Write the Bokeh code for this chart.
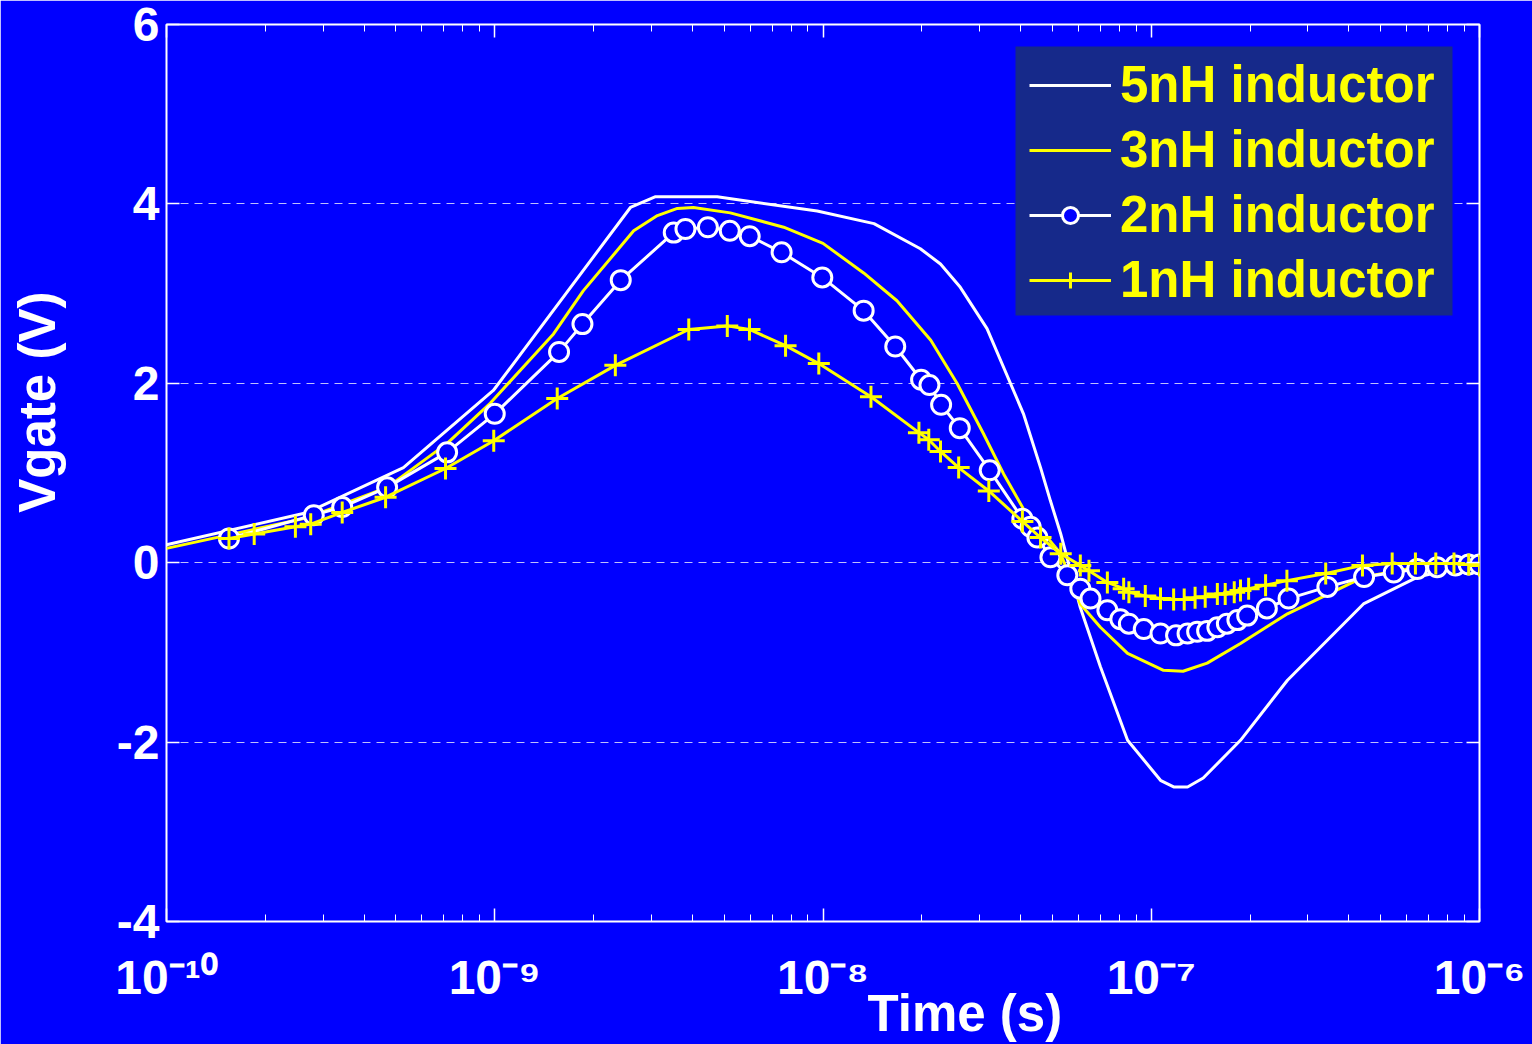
import math
from bokeh.plotting import figure
from bokeh.models import (Range1d, LinearAxis, LogAxis, FixedTicker, Legend,
                          LegendItem, Title, CustomJSTickFormatter, BoxAnnotation)
from bokeh.embed import file_html
from bokeh.resources import INLINE

# ---------------- data ----------------
t_5nH = [1.0e-10, 2.69e-10, 5.27e-10, 9.9e-10, 2.59e-9, 3.09e-9, 4.76e-9, 9.6e-9,
         1.43e-8, 1.98e-8, 2.28e-8, 2.62e-8, 3.16e-8, 4.08e-8, 4.60e-8, 4.93e-8,
         5.30e-8, 6.08e-8, 7.0e-8, 8.47e-8, 1.07e-7, 1.17e-7, 1.29e-7, 1.44e-7,
         1.87e-7, 2.60e-7, 4.43e-7, 6.47e-7, 1.0e-6]
v_5nH = [0.20, 0.56, 1.06, 1.92, 3.96, 4.08, 4.08, 3.92,
         3.78, 3.50, 3.33, 3.07, 2.61, 1.66, 1.06, 0.69,
         0.32, -0.50, -1.16, -1.98, -2.43, -2.50, -2.50, -2.40,
         -1.98, -1.31, -0.46, -0.16, 0.0]

t_3nH = [1.0e-10, 2.68e-10, 4.70e-10, 7.16e-10, 9.7e-10, 1.51e-9, 1.86e-9, 2.65e-9,
         3.13e-9, 3.60e-9, 4.03e-9, 5.22e-9, 7.59e-9, 1.0e-8, 1.33e-8, 1.68e-8,
         2.13e-8, 2.56e-8, 3.08e-8, 3.55e-8, 4.08e-8, 5.30e-8, 6.08e-8, 7.0e-8,
         8.47e-8, 1.09e-7, 1.25e-7, 1.48e-7, 1.87e-7, 2.60e-7, 4.43e-7, 6.47e-7, 1.0e-6]
v_3nH = [0.16, 0.50, 0.84, 1.33, 1.78, 2.55, 3.03, 3.70,
         3.87, 3.95, 3.96, 3.90, 3.74, 3.56, 3.23, 2.92,
         2.48, 2.00, 1.44, 0.99, 0.60, 0.10, -0.46, -0.72,
         -1.01, -1.20, -1.21, -1.12, -0.90, -0.57, -0.16, -0.05, 0.0]

t_2nH = [1.55e-10, 2.81e-10, 3.43e-10, 4.70e-10, 7.16e-10, 1.0e-9, 1.57e-9, 1.85e-9,
         2.42e-9, 3.51e-9, 3.81e-9, 4.46e-9, 5.20e-9, 5.98e-9, 7.48e-9, 9.95e-9,
         1.33e-8, 1.66e-8, 1.99e-8, 2.11e-8, 2.29e-8, 2.61e-8, 3.22e-8, 4.05e-8,
         4.29e-8, 4.50e-8, 4.93e-8, 5.55e-8, 6.08e-8, 6.53e-8, 7.35e-8, 8.05e-8,
         8.55e-8, 9.49e-8, 1.067e-7, 1.19e-7, 1.29e-7, 1.38e-7, 1.48e-7, 1.59e-7,
         1.70e-7, 1.83e-7, 1.96e-7, 2.25e-7, 2.62e-7, 3.44e-7, 4.45e-7, 5.48e-7,
         6.46e-7, 7.43e-7, 8.45e-7, 9.27e-7, 1.0e-6]
v_2nH = [0.27, 0.53, 0.62, 0.84, 1.23, 1.66, 2.35, 2.66,
         3.15, 3.68, 3.72, 3.74, 3.70, 3.64, 3.46, 3.18,
         2.81, 2.41, 2.04, 1.98, 1.76, 1.50, 1.03, 0.49,
         0.40, 0.28, 0.06, -0.14, -0.29, -0.40, -0.53, -0.63,
         -0.68, -0.74, -0.79, -0.81, -0.79, -0.77, -0.76, -0.72,
         -0.68, -0.64, -0.59, -0.51, -0.40, -0.27, -0.16, -0.11,
         -0.07, -0.05, -0.03, -0.02, -0.02]

t_1nH = [1.55e-10, 1.85e-10, 2.47e-10, 2.75e-10, 3.43e-10, 4.65e-10, 7.08e-10, 9.93e-10,
         1.55e-9, 2.33e-9, 3.90e-9, 5.11e-9, 5.97e-9, 7.69e-9, 9.71e-9, 1.40e-8,
         1.96e-8, 2.10e-8, 2.28e-8, 2.59e-8, 3.20e-8, 4.05e-8, 4.60e-8, 5.30e-8,
         6.08e-8, 6.46e-8, 7.35e-8, 8.24e-8, 8.55e-8, 9.59e-8, 1.067e-7, 1.17e-7,
         1.26e-7, 1.36e-7, 1.46e-7, 1.59e-7, 1.68e-7, 1.79e-7, 1.87e-7, 1.98e-7,
         2.23e-7, 2.59e-7, 3.40e-7, 4.40e-7, 5.42e-7, 6.38e-7, 7.36e-7, 8.36e-7,
         9.27e-7, 1.0e-6]
v_1nH = [0.27, 0.32, 0.40, 0.43, 0.56, 0.73, 1.05, 1.36,
         1.83, 2.20, 2.60, 2.64, 2.60, 2.42, 2.22, 1.85,
         1.45, 1.37, 1.24, 1.06, 0.80, 0.46, 0.28, 0.10,
         -0.03, -0.09, -0.22, -0.29, -0.33, -0.37, -0.40, -0.41,
         -0.41, -0.39, -0.38, -0.35, -0.35, -0.33, -0.31, -0.29,
         -0.25, -0.20, -0.12, -0.03, -0.01, -0.01, -0.01, -0.01,
         -0.02, -0.03]

series_labels = ["5nH inductor", "3nH inductor", "2nH inductor", "1nH inductor"]
x_exponents = [-10, -9, -8, -7, -6]
y_ticks = [-4, -2, 0, 2, 4, 6]
y_tick_labels = ["-4", "-2", "0", "2", "4", "6"]
x_title = "Time (s)"
y_title = "Vgate (V)"

# ---------------- styling ----------------
FONT = "Liberation Sans"
BG = "#0000FF"
LEGEND_BG = "#16298A"
WHITE = "#FFFFFF"
YELLOW = "#FFFF00"

xmin, xmax = 10.0 ** x_exponents[0], 10.0 ** x_exponents[-1]
ymin, ymax = y_ticks[0], y_ticks[-1]

p = figure(width=1532, height=1044, x_axis_type="log",
           x_range=Range1d(xmin, xmax), y_range=Range1d(ymin, ymax),
           output_backend="svg", toolbar_location=None,
           min_border_left=166, min_border_right=53,
           min_border_top=24, min_border_bottom=123,
           background_fill_color=BG, border_fill_color=BG,
           outline_line_color=WHITE, outline_line_width=2)

bottom_axis = p.below[0]
left_axis = p.left[0]

x_major = [10.0 ** e for e in x_exponents]
x_minor = [k * 10.0 ** e for e in x_exponents[:-1] for k in range(2, 10)]
xticker = FixedTicker(ticks=x_major, minor_ticks=x_minor)
yticker = FixedTicker(ticks=y_ticks)
blank = CustomJSTickFormatter(code="return ''")
pow10 = CustomJSTickFormatter(code="""
    const sup = {'-': '\u207b', '0': '\u2070', '1': '\u00b9', '2': '\u00b2',
                 '3': '\u00b3', '4': '\u2074', '5': '\u2075', '6': '\u2076',
                 '7': '\u2077', '8': '\u2078', '9': '\u2079'};
    const e = Math.round(Math.log10(tick));
    return '10' + String(e).split('').map((c) => sup[c]).join('');
""")

bottom_axis.ticker = xticker
bottom_axis.formatter = pow10
left_axis.ticker = yticker
top_axis = LogAxis(ticker=xticker, formatter=blank)
right_axis = LinearAxis(ticker=yticker, formatter=blank)
p.add_layout(top_axis, "above")
p.add_layout(right_axis, "right")

for ax in [bottom_axis, top_axis]:
    ax.minor_tick_in = 7
    ax.minor_tick_out = 0
    ax.minor_tick_line_color = WHITE
    ax.minor_tick_line_width = 1
for ax in [left_axis, right_axis]:
    ax.minor_tick_line_color = None
for ax in [bottom_axis, top_axis, left_axis, right_axis]:
    ax.axis_line_color = None
    ax.major_tick_in = 13
    ax.major_tick_out = 0
    ax.major_tick_line_color = WHITE
    ax.major_tick_line_width = 1.5
    ax.major_label_text_font = FONT
    ax.major_label_text_font_style = "bold"
    ax.major_label_text_font_size = "48px"
    ax.major_label_text_color = WHITE
for ax in [top_axis, right_axis]:
    ax.major_label_standoff = 0

left_axis.major_label_standoff = 7
left_axis.major_label_overrides = dict(zip(y_ticks, y_tick_labels))
bottom_axis.major_label_standoff = 29

# y title as the axis label; leading no-break spaces shift its centre upward
left_axis.axis_label = "\u00a0" * 10 + y_title
left_axis.axis_label_standoff = 48
left_axis.axis_label_text_font = FONT
left_axis.axis_label_text_font_style = "bold"
left_axis.axis_label_text_font_size = "51px"
left_axis.axis_label_text_color = WHITE

p.xgrid.grid_line_color = None
p.ygrid.ticker = yticker
p.ygrid.grid_line_color = WHITE
p.ygrid.grid_line_alpha = 0.75
p.ygrid.grid_line_width = 1
p.ygrid.grid_line_dash = "8 6"

# ---------------- series ----------------
r5 = p.line(t_5nH, v_5nH, line_color=WHITE, line_width=3)
r3 = p.line(t_3nH, v_3nH, line_color=YELLOW, line_width=3)
r2l = p.line(t_2nH, v_2nH, line_color=WHITE, line_width=3)
r2m = p.scatter(t_2nH, v_2nH, marker="circle", size=19, line_color=WHITE,
                line_width=3, fill_color=BG)
r1l = p.line(t_1nH, v_1nH, line_color=YELLOW, line_width=3)
r1m = p.scatter(t_1nH, v_1nH, marker="cross", size=22, line_color=YELLOW,
                line_width=3)

# legend panel (frame-relative pixels, y measured upward from the frame bottom)
legend_panel = BoxAnnotation(left=849, right=1286, bottom=606, top=875,
                             left_units="screen", right_units="screen",
                             bottom_units="screen", top_units="screen",
                             fill_color=LEGEND_BG, fill_alpha=1.0,
                             line_color=None)
p.add_layout(legend_panel)

legend = Legend(items=[
    LegendItem(label=series_labels[0], renderers=[r5]),
    LegendItem(label=series_labels[1], renderers=[r3]),
    LegendItem(label=series_labels[2], renderers=[r2l, r2m]),
    LegendItem(label=series_labels[3], renderers=[r1l, r1m]),
], location=(863, 612), margin=0, padding=0, spacing=6,
    glyph_width=82, glyph_height=40, label_height=55,
    label_standoff=9,
    label_text_font=FONT, label_text_font_style="bold",
    label_text_font_size="51px", label_text_color=YELLOW,
    background_fill_alpha=0.0, border_line_color=None)
p.add_layout(legend)

# ---------------- x title ----------------
xt = Title(text=x_title, align="left", vertical_align="top", offset=701,
           standoff=-44, text_font=FONT, text_font_style="bold",
           text_font_size="51px", text_color=WHITE)
p.add_layout(xt, "below")

open("out.html", "w").write(file_html(p, INLINE))
